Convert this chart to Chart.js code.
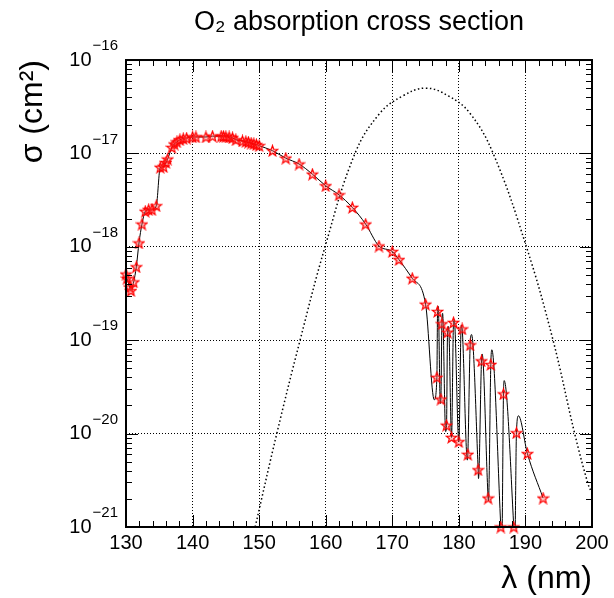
<!DOCTYPE html>
<html>
<head>
<meta charset="utf-8">
<script src="https://cdn.jsdelivr.net/npm/chart.js@4.4.0/dist/chart.umd.min.js"></script>
<style>
  html, body { margin: 0; padding: 0; background: #fff; }
  canvas { display: block; }
</style>
</head>
<body>
<canvas id="grafico" width="614" height="598"></canvas>
<script>
// puntos medidos (estrellas): longitud de onda (nm) y seccion eficaz (cm2)
const lambdaPuntos = [
  130.0, 130.15, 130.55, 130.75, 131.15, 131.55, 131.95, 132.4, 132.9, 133.4,
  133.9, 134.55, 135.15, 135.65, 136.0, 136.25, 136.9, 137.25, 137.65, 138.1,
  138.6, 139.1, 140.0, 140.5, 142.0, 143.0, 144.3, 144.65, 145.0, 145.5,
  146.0, 146.5, 147.5, 148.0, 148.4, 148.8, 149.2, 149.6, 150.0, 152.0,
  154.0, 156.0, 158.0, 160.0, 162.0, 164.0, 166.0, 168.0, 170.0, 171.0,
  173.0, 175.0, 176.7, 176.8, 177.3, 177.45, 178.15, 178.3, 178.9, 179.2,
  180.0, 180.5, 181.35, 181.7, 182.9, 183.4, 184.4, 184.8, 186.3, 186.7,
  188.25, 188.65, 190.3, 192.65
];
const sigmaPuntos = [
  5.1e-19, 4.6e-19, 3.7e-19, 3.4e-19, 4.2e-19, 6.1e-19, 1.1e-18, 1.75e-18, 2.4e-18, 2.5e-18,
  2.5e-18, 2.75e-18, 7.1e-18, 7.2e-18, 8.0e-18, 8.7e-18, 1.16e-17, 1.26e-17, 1.33e-17, 1.4e-17,
  1.44e-17, 1.46e-17, 1.5e-17, 1.5e-17, 1.5e-17, 1.53e-17, 1.53e-17, 1.52e-17, 1.51e-17, 1.5e-17,
  1.47e-17, 1.4e-17, 1.36e-17, 1.34e-17, 1.32e-17, 1.29e-17, 1.27e-17, 1.24e-17, 1.21e-17, 1.07e-17,
  8.9e-18, 7.7e-18, 6.0e-18, 4.5e-18, 3.6e-18, 2.64e-18, 1.75e-18, 1.02e-18, 8.9e-19, 7.3e-19,
  4.6e-19, 2.43e-19, 4.0e-20, 2.03e-19, 2.34e-20, 1.5e-19, 1.23e-20, 1.22e-19, 9.1e-21, 1.55e-19,
  8.2e-21, 1.32e-19, 6.0e-21, 8.9e-20, 4.1e-21, 6.0e-20, 2.04e-21, 5.5e-20, 1.0e-21, 2.66e-20,
  1.0e-21, 1.02e-20, 6.1e-21, 2.04e-21
];

// picos y valles de la linea continua (bandas de Schumann-Runge)
const lambdaExtremos = [176.31, 176.91, 177.21, 177.56, 178.01, 178.46, 179.31, 180.36, 181.28, 181.91, 182.95, 183.5, 184.45, 184.95, 186.45, 186.8, 188.4, 188.95];
const sigmaExtremos = [2.3e-20, 2.3e-19, 2.1e-20, 1.94e-19, 1.05e-20, 1.4e-19, 1.65e-19, 1.45e-19, 5.2e-21, 1.15e-19, 3.3e-21, 7.1e-20, 1.9e-21, 7.9e-20, 6e-22, 3.7e-20, 6e-22, 1.55e-20];

// curva punteada
const lambdaCurva = [149.4, 152.65, 156.15, 159.9, 164.4, 168.15, 171.5, 175.0, 178.5, 181.65, 185.15, 190.15, 194.15, 197.4, 199.4, 200.0];
const valorCurva = [1e-21, 1e-20, 1e-19, 1e-18, 1e-17, 2.7e-17, 4.1e-17, 5.0e-17, 4.1e-17, 2.7e-17, 1e-17, 1e-18, 1e-19, 1e-20, 2.9e-21, 2.3e-21];

const xMin = 130, xMax = 200;
const yDecadas = [-21, -20, -19, -18, -17, -16];

const fuente = '"Liberation Sans", Arial, sans-serif';

// marcador estrella roja
function crearEstrella() {
  const c = document.createElement('canvas');
  c.width = 13; c.height = 13;
  const g = c.getContext('2d');
  g.beginPath();
  for (let i = 0; i < 10; i++) {
    const r = (i % 2 === 0) ? 5.6 : 2.3;
    const a = -Math.PI / 2 + i * Math.PI / 5;
    const px = 6.5 + r * Math.cos(a), py = 7 + r * Math.sin(a);
    if (i === 0) g.moveTo(px, py); else g.lineTo(px, py);
  }
  g.closePath();
  g.fillStyle = 'rgba(255,90,90,0.35)';
  g.fill();
  g.strokeStyle = '#f00';
  g.lineWidth = 1.2;
  g.stroke();
  return c;
}
const estrella = crearEstrella();

// marco, ticks hacia dentro y etiquetas 10^n
const marcoRoot = {
  id: 'marcoRoot',
  afterDraw(chart) {
    const ctx = chart.ctx;
    const area = chart.chartArea;
    const sx = chart.scales.x, sy = chart.scales.y;
    ctx.save();
    ctx.strokeStyle = '#000';
    ctx.lineWidth = 1;
    ctx.beginPath();
    for (let v = xMin; v <= xMax; v += 2) {
      const px = Math.round(sx.getPixelForValue(v)) + 0.5;
      const len = (v % 10 === 0) ? 12 : 6;
      ctx.moveTo(px, area.bottom); ctx.lineTo(px, area.bottom - len);
      ctx.moveTo(px, area.top); ctx.lineTo(px, area.top + len);
    }
    for (let i = 0; i < yDecadas.length; i++) {
      for (let m = 1; m <= 9; m++) {
        if (i === yDecadas.length - 1 && m > 1) break;
        const py = Math.round(sy.getPixelForValue(m * Math.pow(10, yDecadas[i]))) + 0.5;
        const len = (m === 1) ? 12 : 6;
        ctx.moveTo(area.left, py); ctx.lineTo(area.left + len, py);
        ctx.moveTo(area.right, py); ctx.lineTo(area.right - len, py);
      }
    }
    ctx.stroke();
    ctx.lineWidth = 2;
    ctx.strokeRect(area.left, area.top, area.right - area.left, area.bottom - area.top);

    ctx.fillStyle = '#000';
    ctx.textBaseline = 'middle';
    ctx.textAlign = 'right';
    yDecadas.forEach(function (e) {
      const py = sy.getPixelForValue(Math.pow(10, e));
      const exp = '\u2212' + Math.abs(e);
      ctx.font = '15px ' + fuente;
      const w = ctx.measureText(exp).width;
      ctx.fillText(exp, 118, py - 14);
      ctx.font = '20px ' + fuente;
      ctx.fillText('10', 118 - w - 1, py);
    });
    ctx.restore();
  }
};

const datosCurva = lambdaCurva.map((x, i) => ({ x: x, y: valorCurva[i] }));
const datosPuntos = lambdaPuntos.map((x, i) => ({ x: x, y: sigmaPuntos[i] }));
// la linea pasa por las estrellas y por los picos/valles
const datosLinea = datosPuntos
  .concat(lambdaExtremos.map((x, i) => ({ x: x, y: sigmaExtremos[i] })))
  .sort((a, b) => a.x - b.x);

new Chart(document.getElementById('grafico'), {
  type: 'line',
  data: {
    datasets: [
      {
        label: 'curva',
        data: datosCurva,
        borderColor: '#000',
        borderWidth: 1.5,
        borderDash: [1.5, 2.5],
        pointRadius: 0,
        tension: 0.4,
        fill: false,
        order: 2
      },
      {
        label: 'linea',
        data: datosLinea,
        borderColor: '#000',
        borderWidth: 1,
        pointRadius: 0,
        cubicInterpolationMode: 'monotone',
        fill: false,
        order: 1
      },
      {
        label: 'O2',
        data: datosPuntos,
        showLine: false,
        pointStyle: estrella,
        pointRadius: 5,
        clip: 8,
        order: 0
      }
    ]
  },
  options: {
    responsive: false,
    animation: false,
    devicePixelRatio: 1,
    layout: { padding: { left: 0, right: 22, top: 0, bottom: 0 } },
    font: { family: fuente },
    plugins: {
      legend: { display: false },
      tooltip: { enabled: false },
      title: {
        display: true,
        text: 'O\u2082 absorption cross section',
        color: '#000',
        fullSize: false,
        font: { family: fuente, size: 27, weight: 'normal', lineHeight: 1.26 },
        padding: { top: 6, bottom: 20 }
      }
    },
    scales: {
      x: {
        type: 'linear',
        min: xMin,
        max: xMax,
        ticks: { stepSize: 10, color: '#000', padding: 4, font: { family: fuente, size: 20 } },
        grid: { color: '#000', lineWidth: 1, drawTicks: false },
        border: { display: false, dash: [1, 2] },
        title: {
          display: true,
          text: '\u03bb (nm)',
          color: '#000',
          align: 'end',
          font: { family: fuente, size: 32 },
          padding: { top: 0, bottom: 0 }
        },
        afterFit: function (s) { s.height = 71; }
      },
      y: {
        type: 'logarithmic',
        min: 1e-21,
        max: 1e-16,
        afterBuildTicks: function (s) {
          s.ticks = yDecadas.map(e => ({ value: Math.pow(10, e) }));
        },
        ticks: { display: false },
        grid: { color: '#000', lineWidth: 1, drawTicks: false },
        border: { display: false, dash: [1, 2] },
        title: {
          display: true,
          text: '\u03c3 (cm\u00b2)',
          color: '#000',
          align: 'end',
          font: { family: fuente, size: 32 },
          padding: { top: 14, bottom: 0 }
        },
        afterFit: function (s) { s.width = 126; }
      }
    }
  },
  plugins: [marcoRoot]
});
</script>
</body>
</html>
